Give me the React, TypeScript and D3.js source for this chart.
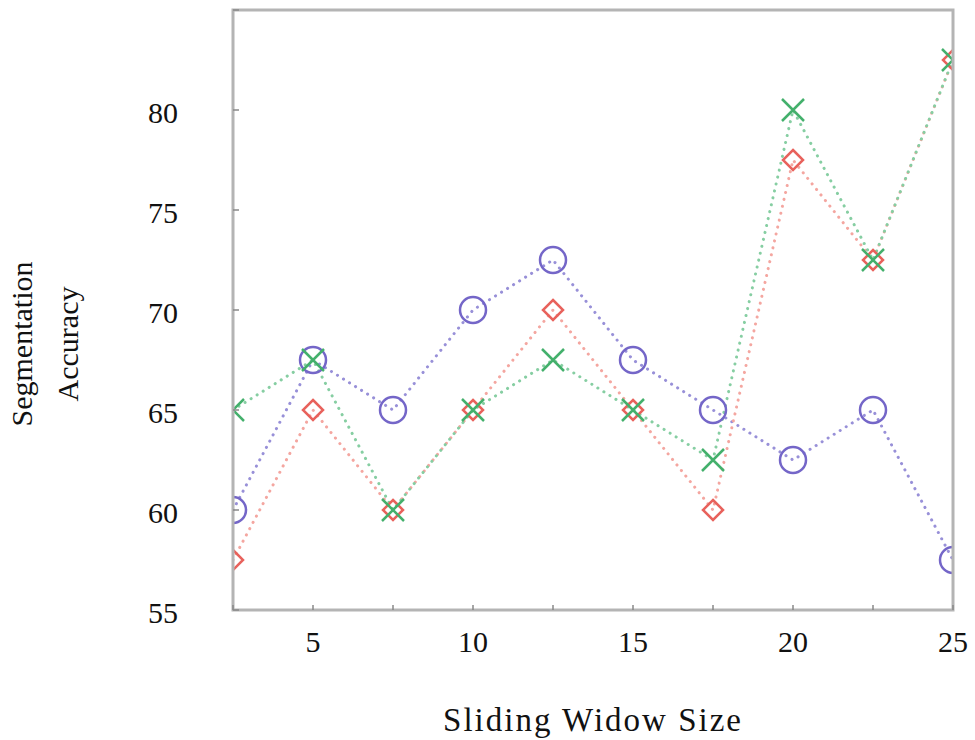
import React, { useEffect, useRef } from "react"
import * as d3 from "d3"

const windowSizes = [2.5, 5, 7.5, 10, 12.5, 15, 17.5, 20, 22.5, 25]
const circleSeries = [60, 67.5, 65, 70, 72.5, 67.5, 65, 62.5, 65, 57.5]
const diamondSeries = [57.5, 65, 60, 65, 70, 65, 60, 77.5, 72.5, 82.5]
const crossSeries = [65, 67.5, 60, 65, 67.5, 65, 62.5, 80, 72.5, 82.5]
const xTickLabels = [5, 10, 15, 20, 25]
const xMinorTicks = [2.5, 5, 7.5, 10, 12.5, 15, 17.5, 20, 22.5, 25]
const yTickLabels = [55, 60, 65, 70, 75, 80]
const yTicks = [55, 60, 65, 70, 75, 80, 85]

const font = "Times New Roman, Liberation Serif, Times, serif"

export default function App() {
    const ref = useRef<SVGSVGElement>(null)

    useEffect(() => {
        const svg = d3.select(ref.current)
        svg.selectAll("*").remove()

        const left = 233, right = 953, top = 10, bottom = 610

        const x = d3.scaleLinear().domain([2.5, 25]).range([left, right])
        const y = d3.scaleLinear().domain([55, 85]).range([bottom, top])

        svg.append("defs").append("clipPath").attr("id", "plot")
            .append("rect")
            .attr("x", left).attr("y", top)
            .attr("width", right - left).attr("height", bottom - top)

        const plot = svg.append("g").attr("clip-path", "url(#plot)")

        const line = d3.line<number>()
            .x((d, i) => x(windowSizes[i]))
            .y(d => y(d))

        const series = [
            { values: circleSeries, line: "#9890d8", mark: "#7466c8", kind: "circle" },
            { values: diamondSeries, line: "#f4a6a0", mark: "#e8625c", kind: "diamond" },
            { values: crossSeries, line: "#86cea2", mark: "#44b06c", kind: "cross" },
        ]

        series.forEach(s => {
            plot.append("path")
                .datum(s.values)
                .attr("fill", "none")
                .attr("stroke", s.line)
                .attr("stroke-width", 3)
                .attr("stroke-dasharray", "0.1,7")
                .attr("stroke-linecap", "round")
                .attr("d", line)
        })

        series.forEach(s => {
            const g = plot.append("g")
            s.values.forEach((v, i) => {
                const cx = x(windowSizes[i]), cy = y(v)
                if (s.kind === "circle") {
                    g.append("circle")
                        .attr("cx", cx).attr("cy", cy).attr("r", 13)
                        .attr("fill", "none").attr("stroke", s.mark).attr("stroke-width", 2.5)
                } else if (s.kind === "diamond") {
                    const r = 10
                    g.append("path")
                        .attr("d", `M${cx},${cy - r}L${cx + r},${cy}L${cx},${cy + r}L${cx - r},${cy}Z`)
                        .attr("fill", "none").attr("stroke", s.mark).attr("stroke-width", 2.5)
                } else {
                    const r = 11
                    g.append("path")
                        .attr("d", `M${cx - r},${cy - r}L${cx + r},${cy + r}M${cx - r},${cy + r}L${cx + r},${cy - r}`)
                        .attr("fill", "none").attr("stroke", s.mark).attr("stroke-width", 2.5)
                }
            })
        })

        // frame
        svg.append("rect")
            .attr("x", left).attr("y", top)
            .attr("width", right - left).attr("height", bottom - top)
            .attr("fill", "none").attr("stroke", "#b4b4b4").attr("stroke-width", 3)

        // ticks
        svg.append("g").selectAll("line")
            .data(xMinorTicks)
            .enter().append("line")
            .attr("x1", d => x(d)).attr("x2", d => x(d))
            .attr("y1", bottom).attr("y2", bottom - 5)
            .attr("stroke", "#888").attr("stroke-width", 1.5)

        svg.append("g").selectAll("line")
            .data(yTicks)
            .enter().append("line")
            .attr("x1", left).attr("x2", left + 6)
            .attr("y1", d => y(d)).attr("y2", d => y(d))
            .attr("stroke", "#888").attr("stroke-width", 1.5)

        svg.append("g").selectAll("text")
            .data(xTickLabels)
            .enter().append("text")
            .attr("x", d => x(d))
            .attr("y", 652)
            .attr("text-anchor", "middle")
            .style("font-family", font)
            .attr("font-size", 30)
            .attr("fill", "#111")
            .text(d => d)

        svg.append("g").selectAll("text")
            .data(yTickLabels)
            .enter().append("text")
            .attr("x", 178)
            .attr("y", d => y(d) + 13)
            .attr("text-anchor", "end")
            .style("font-family", font)
            .attr("font-size", 30)
            .attr("fill", "#111")
            .text(d => d)

        svg.append("text")
            .attr("x", 593)
            .attr("y", 731)
            .attr("text-anchor", "middle")
            .style("font-family", font)
            .attr("font-size", 33)
            .attr("letter-spacing", 2)
            .attr("fill", "#111")
            .text("Sliding Widow Size")

        const yl = svg.append("text")
            .attr("transform", "translate(0, 344) rotate(-90)")
            .attr("text-anchor", "middle")
            .style("font-family", font)
            .attr("font-size", 30)
            .attr("fill", "#111")
        yl.append("tspan").attr("x", 0).attr("y", 32).text("Segmentation")
        yl.append("tspan").attr("x", 0).attr("y", 78).text("Accuracy")
    }, [])

    return (
        <svg ref={ref} width={975} height={740}
            style={{ position: "absolute", left: 0, top: 0, background: "#fff" }} />
    )
}
